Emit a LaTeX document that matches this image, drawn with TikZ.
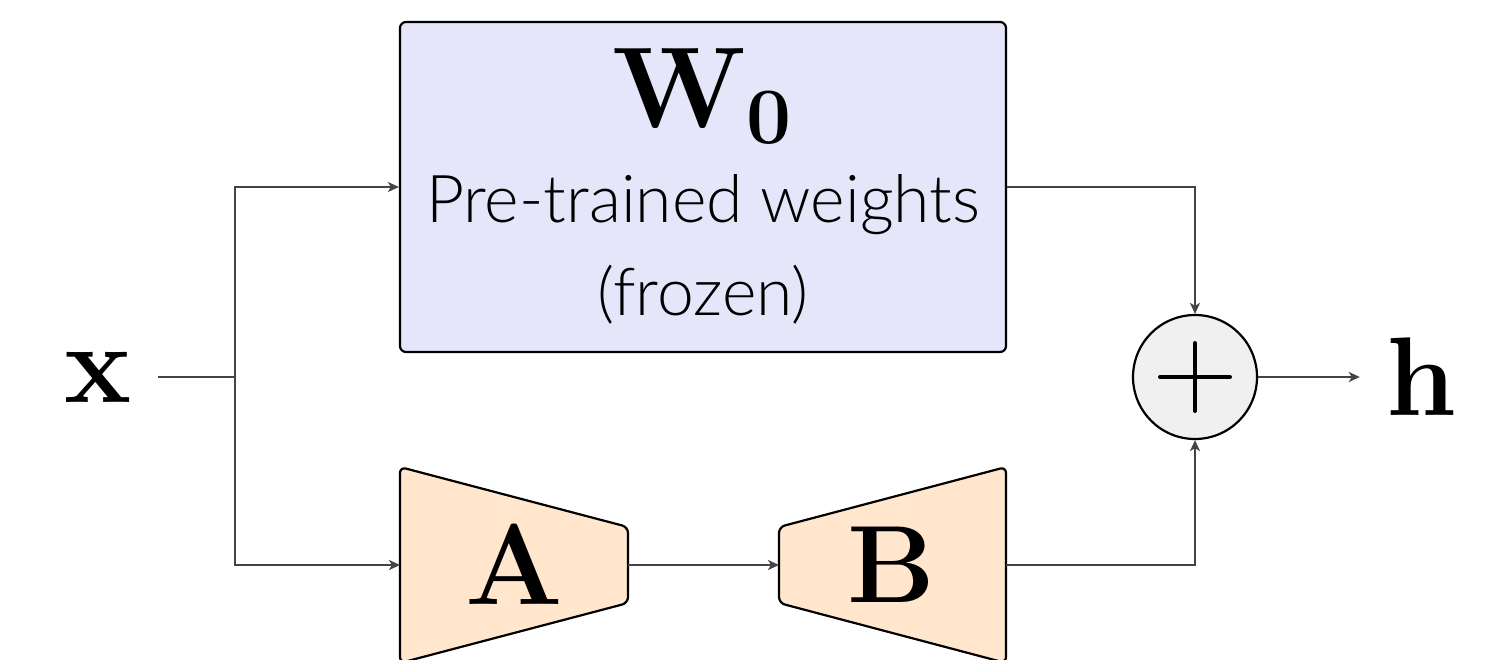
\documentclass[tikz,border=0pt]{standalone}
\usepackage{fontspec}
\newfontfamily\lightfont{Lato Light}
\usetikzlibrary{arrows.meta}

\definecolor{frozenfill}{HTML}{E6E6FA}
\definecolor{adapterfill}{HTML}{FFE6CC}
\definecolor{sumfill}{HTML}{F0F0F0}
\definecolor{wirecol}{HTML}{444444}

\tikzset{
  block/.style={draw=black, line width=2.2pt, rounded corners=6pt},
  wire/.style={draw=wirecol, line width=2pt},
  arr/.style={wire, -{Stealth[length=11pt, width=10pt, inset=3pt]}},
  bigsym/.style={inner sep=0pt, anchor=base, font=\fontsize{115}{138}\selectfont\bfseries},
  caption/.style={inner sep=0pt, anchor=base, font=\lightfont\fontsize{66}{80}\selectfont},
}

\begin{document}
\begin{tikzpicture}[x=1pt, y=-1pt]
\useasboundingbox (0,0) rectangle (1487,659);

% frozen pre-trained weight matrix
\node[block, fill=frozenfill, minimum width=606pt, minimum height=330pt, inner sep=0pt]
  (w0) at (703,187) {};
\node[bigsym] (w0sym) at (702,127)
  {W\kern1pt\raisebox{-16pt}{\fontsize{80}{80}\selectfont 0}};
\node[caption] (w0cap1) at (703,222) {Pre-trained weights};
\node[caption] (w0cap2) at (703,315) {(frozen)};

% low-rank adapter: down-projection A and up-projection B
\draw[block, fill=adapterfill] (400,467) -- (628,527) -- (628,603) -- (400,663) -- cycle;
\draw[block, fill=adapterfill] (779,527) -- (1006,467) -- (1006,663) -- (779,603) -- cycle;
\coordinate (Ain)  at (400,565);
\coordinate (Aout) at (628,565);
\coordinate (Bin)  at (779,565);
\coordinate (Bout) at (1006,565);
\node[bigsym] (A) at (514,604) {A};
\node[bigsym, font=\fontsize{110}{132}\selectfont\bfseries] (B) at (891,602) {B};

% summation
\node[circle, draw=black, line width=2.2pt, fill=sumfill, minimum size=124pt, inner sep=0pt]
  (sum) at (1195,377) {};
\draw[line width=4pt, line cap=round] ([xshift=-35pt]sum.center) -- ([xshift=35pt]sum.center);
\draw[line width=4pt, line cap=round] ([yshift=-34pt]sum.center) -- ([yshift=34pt]sum.center);

% input and output
\node[bigsym, font=\fontsize{113}{136}\selectfont\bfseries] (x) at (98,402) {x};
\node[bigsym, font=\fontsize{112}{134}\selectfont\bfseries] (h) at (1421,415) {h};
\coordinate (split) at (235,377);

% connectors
\draw[wire, shorten <=26pt] (x.east |- split) -- (split);
\draw[arr] (split) |- (w0.west);
\draw[arr] (split) |- (Ain);
\draw[arr] (Aout) -- (Bin);
\draw[arr] (w0.east) -| (sum.north);
\draw[arr] (Bout) -| (sum.south);
\draw[arr, shorten >=26pt] (sum.east) -- (h.west |- sum.east);
\end{tikzpicture}
\end{document}
